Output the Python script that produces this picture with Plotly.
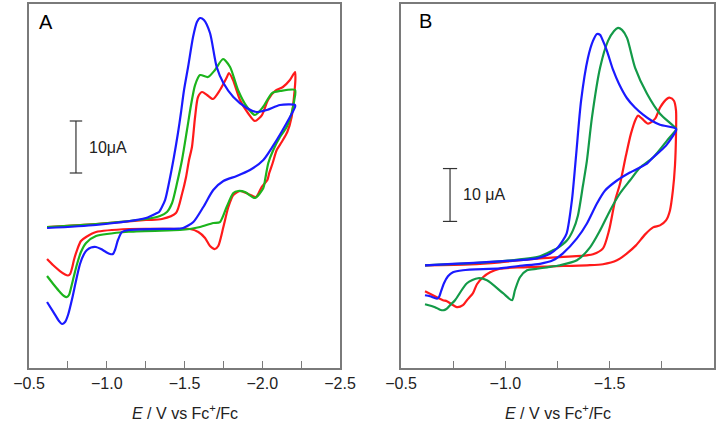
import plotly.graph_objects as go

# ---------------- Panel A data (E in V vs Fc+/Fc, I in microamps) ----------------
a_red_E = [-0.616, -0.931, -1.252, -1.355, -1.445, -1.484, -1.510, -1.529, -1.548, -1.568, -1.587, -1.613,
           -1.645, -1.683, -1.728, -1.773, -1.786, -1.812, -1.857, -1.908, -1.953, -1.998, -2.037, -2.082,
           -2.133, -2.178, -2.211,
           -2.213, -2.204, -2.189, -2.161, -2.125, -2.093, -2.067, -2.045, -2.033, -1.996, -1.960, -1.910,
           -1.857, -1.814, -1.782, -1.750, -1.717, -1.696, -1.664, -1.632, -1.589, -1.535, -1.471, -1.143,
           -0.931, -0.867, -0.834, -0.809, -0.789, -0.777, -0.764, -0.751, -0.732, -0.699, -0.654, -0.616]
a_red_I = [0.19, 0.77, 1.54, 1.73, 2.88, 6.54, 9.81, 13.08, 15.58, 21.35, 25.19, 26.15,
           25.58, 24.81, 26.54, 29.04, 29.81, 28.46, 24.62, 22.12, 20.58, 21.73, 24.62, 26.35,
           27.12, 28.46, 30.0,
           28.46, 25.19, 21.35, 18.46, 16.54, 15.0, 12.5, 10.58, 9.23, 7.88, 5.96, 6.54,
           7.12, 6.35, 4.04, 0.19, -3.46, -4.04, -3.46, -1.92, -0.77, -0.19, -0.19, -0.19,
           -0.77, -1.73, -2.50, -4.23, -6.15, -7.69, -8.85, -9.13, -8.94, -8.27, -7.12, -5.96]

a_green_E = [-0.616, -0.931, -1.252, -1.342, -1.387, -1.420, -1.452, -1.484, -1.516, -1.542, -1.568, -1.600,
             -1.651, -1.696, -1.748, -1.793, -1.844, -1.902, -1.953, -2.005, -2.063, -2.114, -2.211,
             -2.206, -2.189, -2.157, -2.114, -2.071, -2.039, -2.018, -2.007, -1.953, -1.889, -1.846,
             -1.814, -1.771, -1.728, -1.685, -1.600, -1.535, -1.471, -1.143, -0.931, -0.867, -0.834,
             -0.809, -0.789, -0.770, -0.757, -0.744, -0.725, -0.699, -0.661, -0.616]
a_green_I = [0.19, 0.77, 1.73, 2.31, 3.08, 4.81, 8.65, 13.08, 18.85, 23.65, 27.50, 29.42,
             29.04, 30.38, 32.50, 30.96, 26.54, 23.27, 21.73, 23.27, 25.96, 26.35, 26.54,
             24.62, 22.12, 19.42, 17.50, 15.0, 12.5, 9.23, 7.69, 5.77, 6.92, 7.12,
             6.73, 4.04, 1.15, 0.96, 0.19, -0.19, -0.38, -0.71, -1.54, -2.88, -4.62,
             -6.92, -9.23, -11.54, -12.88, -13.27, -13.08, -12.31, -10.96, -9.23]

a_blue_E = [-0.616, -0.931, -1.252, -1.323, -1.336, -1.375, -1.400, -1.432, -1.458, -1.477, -1.497, -1.523,
            -1.555, -1.580, -1.600, -1.625, -1.664, -1.707, -1.750, -1.814, -1.900, -1.964, -2.029, -2.114,
            -2.211,
            -2.211, -2.157, -2.093, -2.007, -1.921, -1.836, -1.750, -1.685, -1.621, -1.557, -1.492, -1.465,
            -1.143, -1.098, -1.072, -1.053, -1.040, -1.021, -0.995, -0.963, -0.931, -0.899, -0.873,
            -0.854, -0.828, -0.802, -0.777, -0.751, -0.732, -0.712, -0.693, -0.661, -0.616]
a_blue_I = [0.0, 0.58, 1.92, 2.88, 3.08, 5.38, 8.65, 13.65, 18.27, 22.12, 26.54, 30.96,
            36.73, 39.62, 40.38, 40.0, 37.5, 30.96, 27.88, 25.19, 23.08, 22.31, 22.69, 23.65,
            23.65,
            23.27, 20.19, 16.92, 13.08, 11.15, 10.0, 9.04, 7.31, 4.04, 1.15, 0.0, -0.1,
            -0.38, -0.77, -2.31, -4.23, -5.0, -5.0, -4.62, -4.04, -3.65, -3.75, -4.23,
            -5.0, -6.92, -10.19, -13.65, -16.73, -18.08, -18.46, -17.88, -16.35, -14.23]

# ---------------- Panel B data ----------------
b_red_E = [-0.615, -0.831, -0.974, -1.166, -1.391, -1.420, -1.468, -1.497, -1.526, -1.550, -1.578, -1.602,
           -1.626, -1.636, -1.655, -1.684, -1.718, -1.741, -1.775, -1.789, -1.808, -1.818,
           -1.818, -1.813, -1.803, -1.789, -1.770, -1.741, -1.708, -1.670, -1.626, -1.583, -1.535,
           -1.468, -1.391, -1.228, -1.070, -0.974, -0.927, -0.893, -0.864, -0.845, -0.816, -0.797,
           -0.768, -0.720, -0.701, -0.653, -0.615]
b_red_I = [0.0, 0.19, 0.57, 1.32, 1.89, 2.08, 3.21, 6.60, 12.26, 15.47, 20.75, 24.91,
           27.74, 28.30, 27.74, 26.79, 27.74, 29.81, 31.51, 31.70, 31.13, 29.25,
           24.91, 18.87, 14.15, 10.38, 8.49, 7.55, 7.17, 5.85, 3.77, 2.26, 0.94,
           0.19, 0.0, -0.19, -0.38, -0.66, -1.32, -2.26, -3.58, -5.28, -6.60, -7.55,
           -7.92, -6.79, -6.60, -5.66, -4.91]

b_green_E = [-0.615, -0.974, -1.166, -1.228, -1.248, -1.296, -1.324, -1.348, -1.372, -1.391, -1.415, -1.454,
             -1.492, -1.521, -1.540, -1.559, -1.583, -1.622, -1.679, -1.741, -1.818,
             -1.818, -1.775, -1.708, -1.646, -1.597, -1.549, -1.502, -1.454, -1.406, -1.343, -1.262,
             -1.200, -1.152, -1.104, -1.070, -1.046, -1.032, -0.989, -0.912, -0.869, -0.816, -0.759,
             -0.735, -0.720, -0.706, -0.687, -0.663, -0.615]
b_green_I = [0.0, 0.75, 1.70, 2.83, 3.21, 4.72, 6.60, 9.43, 15.09, 19.81, 27.92, 37.36,
             42.45, 44.34, 44.91, 44.53, 43.02, 37.36, 32.45, 28.68, 25.85,
             25.66, 23.58, 20.38, 18.49, 16.04, 13.58, 10.38, 6.60, 3.40, 0.94, 0.0,
             -0.38, -0.66, -0.94, -2.26, -4.72, -6.60, -5.28, -2.83, -2.45, -3.40, -6.60,
             -7.55, -8.21, -8.49, -8.40, -7.92, -7.36]

b_blue_E = [-0.615, -0.974, -1.152, -1.214, -1.248, -1.276, -1.294, -1.319, -1.339, -1.363, -1.396, -1.420,
            -1.439, -1.454, -1.468, -1.487, -1.516, -1.545, -1.583, -1.620, -1.660, -1.700, -1.741, -1.818,
            -1.818, -1.770, -1.708, -1.679, -1.597, -1.535, -1.478, -1.439, -1.391, -1.343, -1.276,
            -1.228, -1.166, -1.070, -0.974, -0.797, -0.749, -0.725, -0.706, -0.692, -0.682, -0.673,
            -0.658, -0.639, -0.615]
b_blue_I = [0.0, 0.75, 1.32, 2.17, 3.21, 4.72, 6.04, 12.26, 20.75, 31.13, 39.25, 42.45,
            43.77, 43.58, 42.45, 40.57, 37.0, 34.3, 31.6, 29.9, 28.5, 27.4, 26.6, 25.85,
            25.47, 22.64, 20.38, 19.25, 17.55, 16.04, 14.15, 11.70, 7.92, 5.09, 2.26,
            0.94, 0.28, -0.09, -0.57, -0.94, -1.32, -2.08, -3.40, -4.91, -6.04, -6.32,
            -6.13, -5.85, -5.66]

# ---------------- Axis ticks ----------------
a_tick_vals = [-0.5, -1.0, -1.5, -2.0, -2.5]
a_tick_text = ["\u22120.5", "\u22121.0", "\u22121.5", "\u22122.0", "\u22122.5"]
b_tick_vals = [-0.5, -1.0, -1.5, -2.0]
b_tick_text = ["\u22120.5", "\u22121.0", "\u22121.5", "\u22122.0"]
minor_step = 0.25

RED = "#ff1a1a"
GREEN_A = "#1cb41c"
GREEN_B = "#139a48"
BLUE = "#1a1aff"
FRAME = "#7a7a7a"
FONT = "Liberation Sans, Arial, sans-serif"

fig = go.Figure()

def add(E, I, color, xa, ya):
    fig.add_trace(go.Scatter(x=E, y=I, mode="lines", xaxis=xa, yaxis=ya,
                             line=dict(color=color, width=2.2, shape="spline", smoothing=0.7),
                             showlegend=False, hoverinfo="skip"))

add(a_red_E, a_red_I, RED, "x", "y")
add(a_green_E, a_green_I, GREEN_A, "x", "y")
add(a_blue_E, a_blue_I, BLUE, "x", "y")
add(b_red_E, b_red_I, RED, "x2", "y2")
add(b_green_E, b_green_I, GREEN_B, "x2", "y2")
add(b_blue_E, b_blue_I, BLUE, "x2", "y2")

ydom = [1 - 368 / 426, 1 - 4 / 426]

def xaxis(dom, rng, vals, text, anchor):
    return dict(domain=dom, range=rng, anchor=anchor, automargin=False,
                showline=True, linecolor=FRAME, linewidth=1.5,
                mirror=True, ticks="inside", ticklen=7, tickwidth=1.2, tickcolor=FRAME,
                tickvals=vals, ticktext=text, showgrid=False, zeroline=False,
                minor=dict(tick0=-0.5, dtick=minor_step, ticks="inside", ticklen=7,
                           tickwidth=1.2, tickcolor=FRAME, showgrid=False),
                tickfont=dict(family=FONT, size=16, color="#222222"))

def yaxis(rng, anchor):
    return dict(domain=ydom, range=rng, anchor=anchor, automargin=False,
                showline=True, linecolor=FRAME, linewidth=1.5,
                mirror=True, ticks="", showticklabels=False, showgrid=False, zeroline=False)

fig.update_layout(
    template="none",
    width=727, height=426,
    margin=dict(l=0, r=0, t=0, b=0, autoexpand=False),
    paper_bgcolor="white", plot_bgcolor="white",
    xaxis=xaxis([29 / 727, 340 / 727], [-0.5, -2.5], a_tick_vals, a_tick_text, "y"),
    yaxis=yaxis([-26.92, 43.08], "x"),
    xaxis2=xaxis([401 / 727, 714 / 727], [-0.5, -2.0], b_tick_vals, b_tick_text, "y2"),
    yaxis2=yaxis([-19.43, 49.43], "x2"),
)

title = "<i>E</i> / V vs Fc<sup>+</sup>/Fc"
for xa in ["x", "x2"]:
    fig.add_annotation(text=title, xref=f"{xa} domain", yref="paper", x=0.5, y=0,
                       yshift=2, xanchor="center", yanchor="bottom", showarrow=False,
                       font=dict(family=FONT, size=16, color="#222222"))

fig.add_annotation(text="A", xref="x domain", yref="y domain", x=0.025, y=0.985,
                   xanchor="left", yanchor="top", showarrow=False,
                   font=dict(family=FONT, size=20, color="black"))
fig.add_annotation(text="B", xref="x2 domain", yref="y2 domain", x=0.05, y=0.99,
                   xanchor="left", yanchor="top", showarrow=False,
                   font=dict(family=FONT, size=20, color="black"))

# scale bars (10 uA)
def scalebar(xref, yref, e, i0, half, label, e_label):
    fig.add_shape(type="line", xref=xref, yref=yref, x0=e, x1=e, y0=i0, y1=i0 + 10,
                  line=dict(color="#333333", width=1.2))
    for yy in (i0, i0 + 10):
        fig.add_shape(type="line", xref=xref, yref=yref, x0=e + half, x1=e - half, y0=yy, y1=yy,
                      line=dict(color="#333333", width=1.2))
    fig.add_annotation(text=label, xref=xref, yref=yref, x=e_label, y=i0 + 5, xanchor="left",
                       yanchor="middle", showarrow=False,
                       font=dict(family=FONT, size=16, color="#222222"))

scalebar("x", "y", -0.802, 10.58, 0.04, "10\u03bcA", -0.87)
scalebar("x2", "y2", -0.735, 8.3, 0.034, "10 \u03bcA", -0.788)

fig.write_html("out.html", config={"displayModeBar": False},
               post_script="document.body.style.margin='0px';document.body.style.overflow='hidden';")
